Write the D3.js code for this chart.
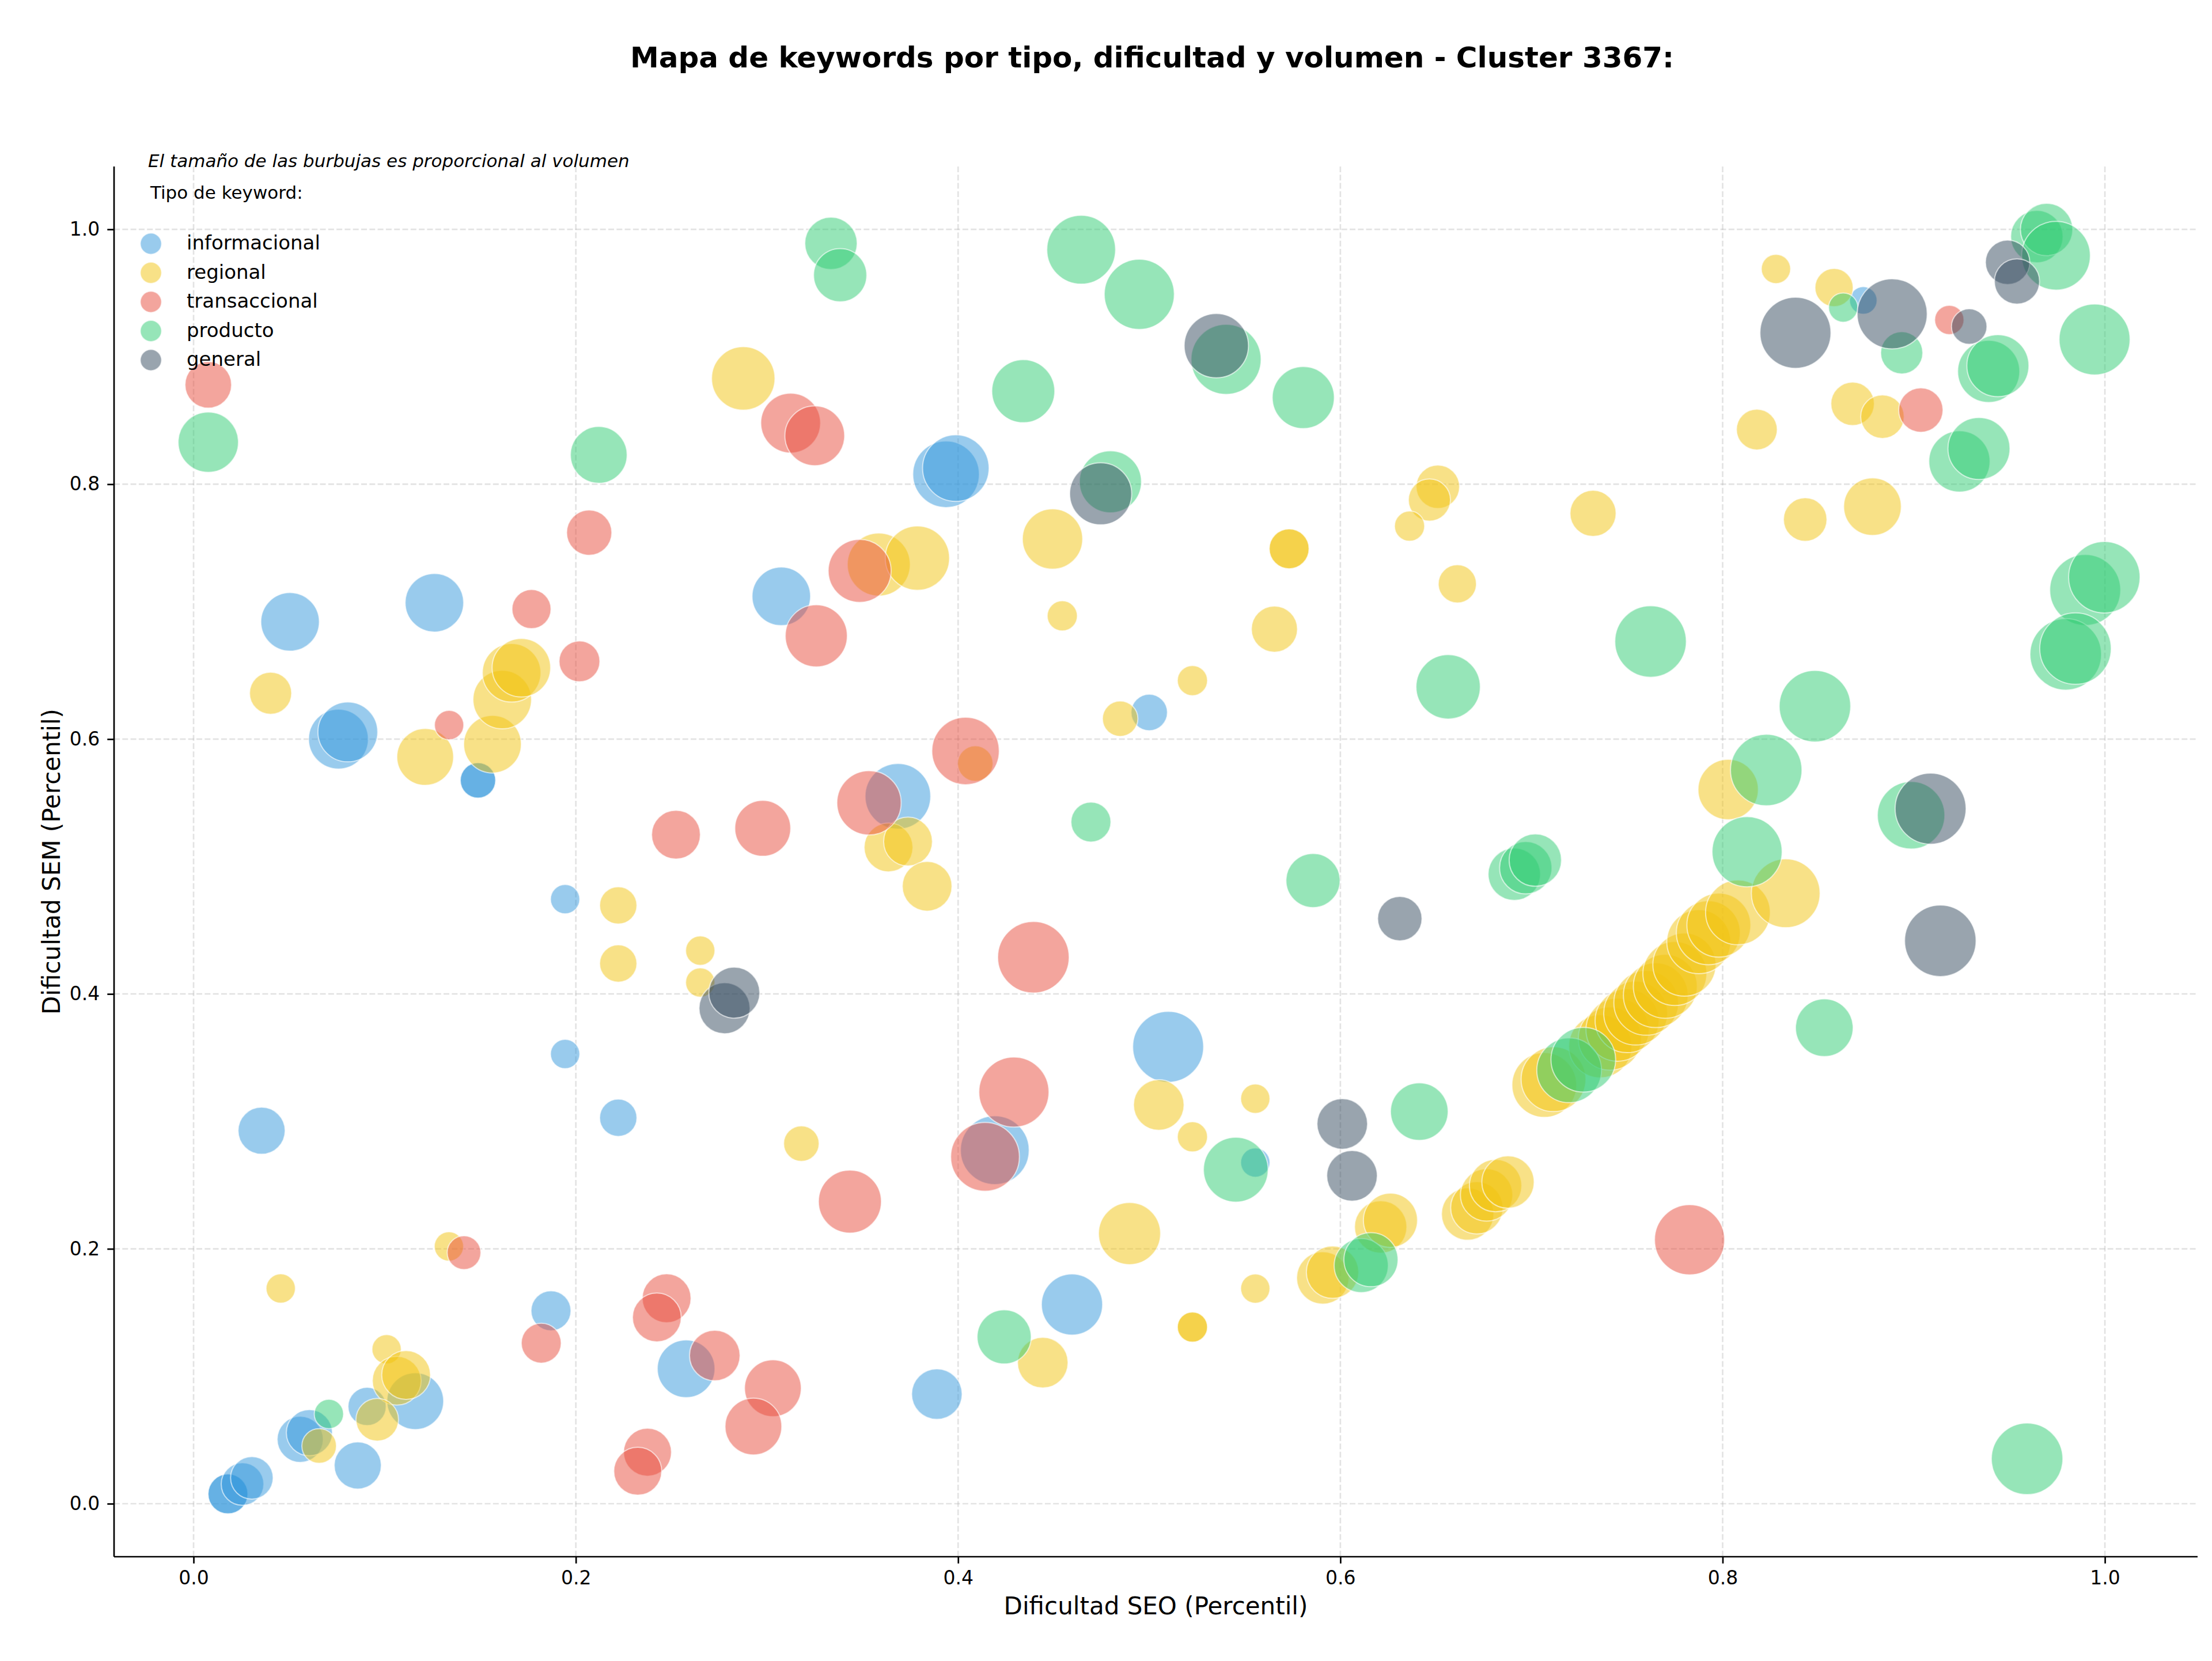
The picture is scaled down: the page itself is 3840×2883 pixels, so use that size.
<!DOCTYPE html>
<html>
<head>
<meta charset="utf-8">
<script src="https://cdn.jsdelivr.net/npm/d3@7"></script>
<style>
  body { margin: 0; background: #fff; }
  text { font-family: "DejaVu Sans", sans-serif; }
</style>
</head>
<body>
<div id="chart"></div>
<script>
// Cada punto: [dificultad SEO, dificultad SEM, volumen]
const informacional = [
  [0.0505,0.692,670],[0.126,0.707,670],[0.3075,0.712,670],[0.0758,0.600,700],[0.0807,0.6056,700],
  [0.1488,0.5676,246],[0.1488,0.5676,246],[0.3937,0.8078,866],[0.3988,0.8126,866],[0.5000,0.6209,259],
  [0.3685,0.5551,843],[0.8736,0.9442,148],[0.1944,0.4744,168],[0.1944,0.3529,168],[0.2222,0.3028,272],
  [0.0356,0.2927,433],[0.1870,0.1514,312],[0.2577,0.1059,650],[0.1160,0.0805,630],[0.0908,0.0763,285],
  [0.0558,0.0505,416],[0.0606,0.0557,416],[0.0859,0.0300,433],[0.0180,0.0077,312],[0.0180,0.0077,312],
  [0.0256,0.0154,355],[0.0305,0.0203,355],[0.5099,0.3585,985],[0.5555,0.2677,168],[0.4192,0.2774,925],
  [0.4596,0.1563,733],[0.3889,0.0860,500]
];
const regional = [
  [0.0403,0.636,347],[0.1212,0.586,630],[0.1564,0.596,650],[0.1615,0.631,670],[0.1664,0.652,670],
  [0.1715,0.656,670],[0.2876,0.883,787],[0.3585,0.737,776],[0.3787,0.742,809],[0.4494,0.757,712],
  [0.5732,0.7493,312],[0.5732,0.7493,312],[0.6510,0.7980,370],[0.6466,0.7876,347],[0.6362,0.7671,178],
  [0.6612,0.7218,285],[0.5655,0.6863,416],[0.4545,0.6967,178],[0.5226,0.6459,178],[0.4848,0.616,246],
  [0.4090,0.5808,246],[0.3636,0.515,466],[0.3738,0.5196,466],[0.3838,0.4845,483],[0.8279,0.9689,168],
  [0.8583,0.9543,285],[0.8680,0.8631,370],[0.8836,0.8530,370],[0.8179,0.8429,326],[0.7322,0.7771,416],
  [0.8432,0.7723,370],[0.8784,0.7824,650],[0.8029,0.5604,712],[0.2222,0.4695,272],[0.2222,0.4239,272],
  [0.2651,0.4340,168],[0.2651,0.4090,168],[0.3180,0.2826,246],[0.0456,0.1689,168],[0.1336,0.2019,168],
  [0.1010,0.1212,168],[0.1063,0.0965,466],[0.1112,0.1010,466],[0.0961,0.0659,355],[0.0657,0.0453,234],
  [0.5050,0.3129,500],[0.5555,0.3178,168],[0.5226,0.2879,178],[0.4897,0.2120,754],[0.4443,0.1107,500],
  [0.5555,0.1688,168],[0.5226,0.1386,178],[0.5226,0.1386,178],[0.5908,0.1772,536],[0.5959,0.1817,536],
  [0.6211,0.2172,536],[0.6262,0.2224,573],[0.6666,0.2273,536],[0.6714,0.2322,536],[0.6765,0.2423,536],
  [0.6812,0.2496,536],[0.6877,0.2524,536],[0.7067,0.3286,820],[0.7115,0.3331,820],[0.7360,0.3590,780],
  [0.7410,0.3650,780],[0.7450,0.3720,780],[0.7500,0.3790,800],[0.7545,0.3850,800],[0.7600,0.3930,820],
  [0.7650,0.3990,820],[0.7700,0.4060,800],[0.7750,0.4160,800],[0.7800,0.4230,780],[0.7875,0.4410,800],
  [0.7925,0.4480,800],[0.7980,0.4540,800],[0.8080,0.4640,820],[0.8330,0.4790,925]
];
const transaccional = [
  [0.0077,0.878,424],[0.3124,0.848,700],[0.3250,0.838,700],[0.2070,0.762,400],[0.1768,0.702,298],
  [0.2019,0.661,326],[0.3258,0.681,754],[0.1337,0.611,168],[0.2524,0.525,466],[0.2978,0.530,611],
  [0.4039,0.5907,890],[0.3485,0.732,776],[0.3534,0.550,809],[0.9186,0.9289,168],[0.9037,0.8582,385],
  [0.1415,0.1970,222],[0.1819,0.1260,312],[0.2475,0.1612,466],[0.2424,0.1462,466],[0.2727,0.1163,500],
  [0.3031,0.0906,630],[0.2929,0.0606,630],[0.2375,0.0404,449],[0.2324,0.0255,449],[0.4394,0.4288,1000],
  [0.4292,0.3230,961],[0.4141,0.2722,925],[0.3434,0.2371,776],[0.7827,0.2071,961]
];
const producto = [
  [0.0077,0.833,712],[0.2120,0.823,630],[0.3335,0.989,536],[0.3383,0.964,554],[0.4644,0.984,925],
  [0.4948,0.949,961],[0.5402,0.898,961],[0.5806,0.868,754],[0.4341,0.873,776],[0.4797,0.8019,754],
  [0.6564,0.641,809],[0.4695,0.5349,312],[0.5857,0.489,573],[0.8631,0.9386,168],[0.8937,0.9031,347],
  [0.9644,0.9943,536],[0.9695,0.9999,536],[0.9744,0.9793,925],[0.9946,0.9136,985],[0.9392,0.8885,754],
  [0.9440,0.8930,754],[0.9239,0.8179,733],[0.9341,0.8280,754],[0.9897,0.7170,985],[0.9997,0.7270,1000],
  [0.9795,0.6665,1000],[0.9846,0.6710,1000],[0.7623,0.6766,1000],[0.8483,0.6258,1000],[0.8228,0.5757,1000],
  [0.8986,0.5402,890],[0.8128,0.5116,961],[0.6910,0.494,536],[0.6970,0.499,536],[0.7020,0.505,536],
  [0.0708,0.0704,168],[0.5453,0.2621,820],[0.6413,0.3077,650],[0.4241,0.1309,573],[0.6109,0.1869,573],
  [0.6160,0.1915,573],[0.7197,0.3401,820],[0.7271,0.3484,820],[0.8532,0.3735,650],[0.9593,0.0352,1000]
];
const general = [
  [0.5351,0.9087,809],[0.4746,0.7925,754],[0.8381,0.9188,985],[0.8887,0.9337,961],[0.9290,0.9237,246],
  [0.9491,0.9741,385],[0.9540,0.9591,400],[0.9088,0.5454,985],[0.2778,0.3888,509],[0.2829,0.4010,509],
  [0.6010,0.2980,500],[0.6061,0.2573,500],[0.6311,0.4591,385],[0.9139,0.4417,1000]
];

const tipos = ["informacional", "regional", "transaccional", "producto", "general"];
const colores = ["#3498db", "#f1c40f", "#e74c3c", "#2ecc71", "#34495e"];
const series = [informacional, regional, transaccional, producto, general];
const tickVals = [0.0, 0.2, 0.4, 0.6, 0.8, 1.0];

const W = 3840, H = 2883;
const plot = { left: 198, right: 3815, top: 289, bottom: 2702 };

const svg = d3.select("#chart").append("svg")
  .attr("width", W)
  .attr("height", H)
  .attr("viewBox", `0 0 ${W} ${H}`);

const x = d3.scaleLinear().domain([-0.0416, 1.0485]).range([plot.left, plot.right]);
const y = d3.scaleLinear().domain([-0.0416, 1.0493]).range([plot.bottom, plot.top]);
const r = d3.scaleSqrt().domain([0, 1000]).range([0, 62]);
const color = d3.scaleOrdinal().domain(tipos).range(colores);

// Grid
const grid = svg.append("g");
grid.selectAll("line.gx")
  .data(tickVals)
  .enter().append("line")
  .attr("x1", d => x(d)).attr("x2", d => x(d))
  .attr("y1", plot.top).attr("y2", plot.bottom)
  .attr("stroke", "#b0b0b0").attr("stroke-opacity", 0.35)
  .attr("stroke-width", 2.7).attr("stroke-dasharray", "10,4.3");
grid.selectAll("line.gy")
  .data(tickVals)
  .enter().append("line")
  .attr("x1", plot.left).attr("x2", plot.right)
  .attr("y1", d => y(d)).attr("y2", d => y(d))
  .attr("stroke", "#b0b0b0").attr("stroke-opacity", 0.35)
  .attr("stroke-width", 2.7).attr("stroke-dasharray", "10,4.3");

// Bubbles, one group per type
series.forEach((pts, i) => {
  svg.append("g").selectAll("circle")
    .data(pts)
    .enter().append("circle")
    .attr("cx", d => x(d[0]))
    .attr("cy", d => y(d[1]))
    .attr("r", d => r(d[2]))
    .attr("fill", color(tipos[i]))
    .attr("fill-opacity", 0.5)
    .attr("stroke", "#fff")
    .attr("stroke-opacity", 0.6)
    .attr("stroke-width", 2);
});

// Axes
const xAxis = svg.append("g")
  .attr("transform", `translate(0,${plot.bottom})`)
  .call(d3.axisBottom(x).tickValues(tickVals).tickFormat(d3.format(".1f")).tickSize(11.7).tickPadding(13).tickSizeOuter(0));
const yAxis = svg.append("g")
  .attr("transform", `translate(${plot.left},0)`)
  .call(d3.axisLeft(y).tickValues(tickVals).tickFormat(d3.format(".1f")).tickSize(11.7).tickPadding(13).tickSizeOuter(0));
[xAxis, yAxis].forEach(a => {
  a.select(".domain").attr("stroke", "#000").attr("stroke-width", 2.7);
  a.selectAll(".tick line").attr("stroke", "#000").attr("stroke-width", 2.7);
  a.selectAll(".tick text").attr("font-size", "33px").attr("fill", "#000")
    .attr("font-family", "DejaVu Sans");
});
// spines cover the whole axes box
xAxis.select(".domain").attr("d", `M${plot.left},0H${plot.right}`);
yAxis.select(".domain").attr("d", `M0,${plot.top}V${plot.bottom}`);

// Axis labels
svg.append("text")
  .attr("x", (plot.left + plot.right) / 2)
  .attr("y", 2802)
  .attr("text-anchor", "middle")
  .attr("font-size", "42px")
  .text("Dificultad SEO (Percentil)");
svg.append("text")
  .attr("transform", `translate(104,${(plot.top + plot.bottom) / 2}) rotate(-90)`)
  .attr("text-anchor", "middle")
  .attr("font-size", "42px")
  .text("Dificultad SEM (Percentil)");

// Title
svg.append("text")
  .attr("x", 2000)
  .attr("y", 117)
  .attr("text-anchor", "middle")
  .attr("font-size", "50px")
  .attr("font-weight", "bold")
  .text("Mapa de keywords por tipo, dificultad y volumen - Cluster 3367:");

// Note + legend
svg.append("text")
  .attr("x", 257)
  .attr("y", 290)
  .attr("font-size", "31px")
  .attr("font-style", "italic")
  .text("El tamaño de las burbujas es proporcional al volumen");
svg.append("text")
  .attr("x", 261)
  .attr("y", 345)
  .attr("font-size", "31px")
  .text("Tipo de keyword:");

const leg = svg.append("g");
tipos.forEach((t, i) => {
  const cy = 423 + i * 50.5;
  leg.append("circle")
    .attr("cx", 262).attr("cy", cy).attr("r", 18.5)
    .attr("fill", color(t)).attr("fill-opacity", 0.5)
    .attr("stroke", "#fff").attr("stroke-opacity", 0.6).attr("stroke-width", 2);
  leg.append("text")
    .attr("x", 324).attr("y", cy + 10)
    .attr("font-size", "34px")
    .text(t);
});
</script>
</body>
</html>
